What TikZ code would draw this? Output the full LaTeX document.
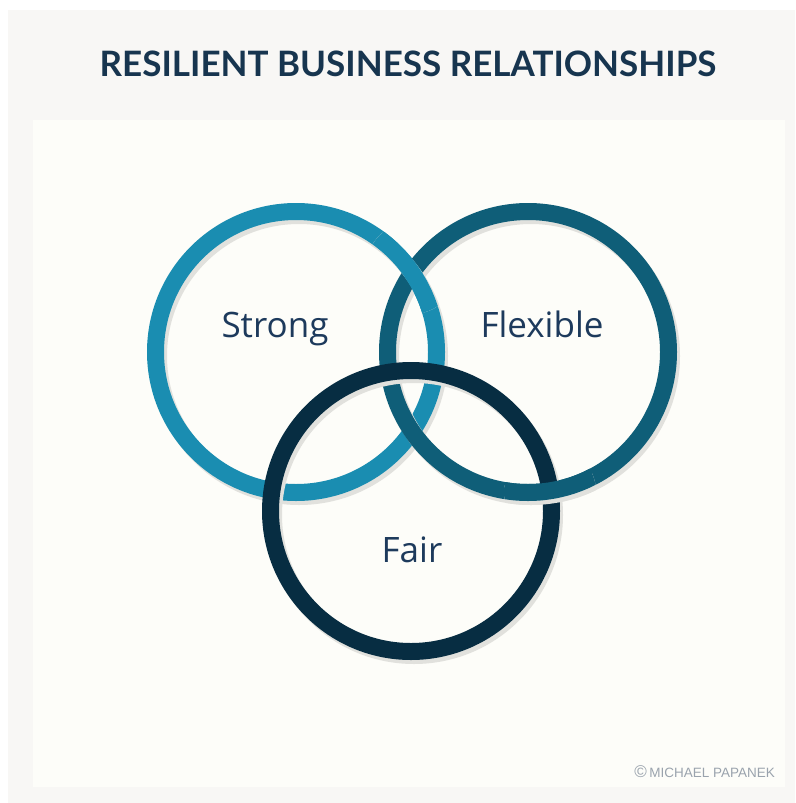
\documentclass[tikz,border=0pt]{standalone}
\usepackage{fontspec}
\setmainfont{Open Sans}
\newfontfamily\titlefont{Lato}
\newfontfamily\credfont{Liberation Sans}
\definecolor{outerbg}{HTML}{F8F7F5}
\definecolor{innerbg}{HTML}{FDFDF9}
\definecolor{titlecol}{HTML}{17354F}
\definecolor{labelcol}{HTML}{1D3A5C}
\definecolor{strongcol}{HTML}{1A8DB1}
\definecolor{flexcol}{HTML}{0F5E78}
\definecolor{faircol}{HTML}{072D42}
\definecolor{shadowcol}{HTML}{E1E1DD}
\definecolor{credcol}{HTML}{9AA3AD}
\tikzset{
  ring/.style={line width=17pt},
  ringshadow/.style={line width=17pt, draw=shadowcol},
  lbl/.style={font=\fontsize{35}{40}\selectfont, text=labelcol, inner sep=0pt, anchor=base},
}
\begin{document}
\begin{tikzpicture}[x=1pt,y=-1pt]
\useasboundingbox (0,0) rectangle (795,803);
\fill[white] (0,0) rectangle (795,803);
\fill[outerbg] (8,10) rectangle (795,803);
\fill[innerbg] (33,120) rectangle (785,787);
\node[inner sep=0pt, text=titlecol] (title) at (408,64)
  {\titlefont\bfseries\fontsize{35}{40}\selectfont RESILIENT BUSINESS RELATIONSHIPS};
\coordinate (S) at (296,352);
\coordinate (F) at (528,352);
\coordinate (R) at (411,511);
% Strong
\draw[ringshadow] ([shift={(3,4)}]S) circle[radius=140.5];
\draw[ring, draw=strongcol] (S) circle[radius=140.5];
% Flexible
\draw[ringshadow] ([shift={(3,4)}]F) circle[radius=140.5];
\draw[ring, draw=flexcol] (F) circle[radius=140.5];
% Fair
\draw[ringshadow] ([shift={(3,4)}]R) circle[radius=140.5];
\draw[ring, draw=faircol] (R) circle[radius=140.5];
% Strong over Flexible at the top crossing
\begin{scope}
  \clip (412,268) circle[radius=46];
  \draw[ringshadow] ([shift={(3,4)}]S) circle[radius=140.5];
  \draw[ring, draw=strongcol] (S) circle[radius=140.5];
\end{scope}
% Flexible over Fair at the lower right crossing
\begin{scope}
  \clip (550,492) circle[radius=46];
  \draw[ringshadow] ([shift={(3,4)}]F) circle[radius=140.5];
  \draw[ring, draw=flexcol] (F) circle[radius=140.5];
\end{scope}
\node[lbl] (strong) at (275,337) {Strong};
\node[lbl] (flexible) at (542,337) {Flexible};
\node[lbl] (fair) at (412,562) {Fair};
\node[inner sep=0pt, text=credcol, anchor=east] (credit) at (775,772)
  {\credfont\fontsize{13.5}{15}\selectfont{\fontsize{17}{15}\selectfont ©}\,MICHAEL PAPANEK};
\end{tikzpicture}
\end{document}
